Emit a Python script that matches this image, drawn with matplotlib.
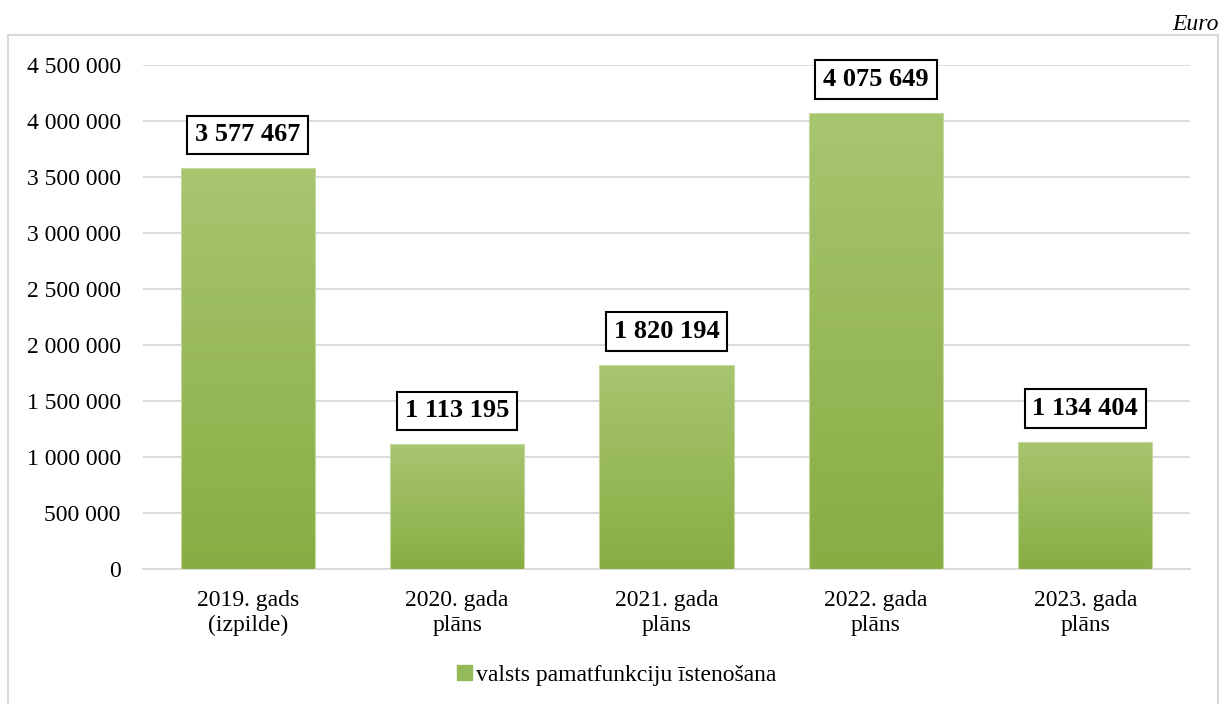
import numpy as np
import matplotlib.pyplot as plt
from matplotlib.patches import Rectangle
from matplotlib.ticker import FuncFormatter
from matplotlib.colors import LinearSegmentedColormap

plt.rcParams['font.family'] = ['Liberation Serif', 'DejaVu Serif']

categories = ['2019. gads\n(izpilde)', '2020. gada\nplāns', '2021. gada\nplāns',
              '2022. gada\nplāns', '2023. gada\nplāns']
values = [3577467, 1113195, 1820194, 4075649, 1134404]
series_name = 'valsts pamatfunkciju īstenošana'
yticks = np.arange(0, 4500001, 500000)


def fmt(v, pos=None):
    return '{:,.0f}'.format(v).replace(',', ' ')


fig = plt.figure(figsize=(12.22, 7.04), dpi=100)

# ramis ap diagrammu
fig.patches.append(Rectangle((8 / 1222, -0.01), 1210 / 1222, 1 - 35 / 704 + 0.01,
                             transform=fig.transFigure, fill=False,
                             edgecolor='#d9d9d9', linewidth=1.5))
fig.text(1219 / 1222, 1 - 25 / 704, 'Euro', ha='right', va='center',
         fontsize=17, style='italic')

ax = fig.add_axes([143 / 1222, 1 - 569 / 704, 1047 / 1222, 504 / 704])
x = np.arange(len(values))
width = 0.64
bars = ax.bar(x, values, width=width, color='none', edgecolor='none', zorder=3)

# gradients stabiņiem
grad = np.linspace(0, 1, 256).reshape(-1, 1)
cmap = LinearSegmentedColormap.from_list('g', ['#88ad43', '#a8c570'])
for b in bars:
    x0, y0 = b.get_x(), b.get_y()
    w, h = b.get_width(), b.get_height()
    im = ax.imshow(grad, extent=[x0, x0 + w, y0, y0 + h], origin='lower',
                   cmap=cmap, aspect='auto', zorder=3)
    im.set_clip_path(b)
    ax.add_patch(Rectangle((x0, y0), w, h, fill=False, edgecolor='#c3d9a0',
                           linewidth=0.8, zorder=4))

for xi, v in zip(x, values):
    ax.annotate(fmt(v), (xi, v), xytext=(0, 24), textcoords='offset points',
                ha='center', va='center', fontsize=19, fontweight='bold',
                bbox=dict(boxstyle='square,pad=0.3', fc='white', ec='black', lw=1.5),
                zorder=5)

ax.set_xlim(-0.5, len(values) - 0.5)
ax.set_ylim(0, 4500000)
ax.set_yticks(yticks)
ax.yaxis.set_major_formatter(FuncFormatter(fmt))
ax.set_xticks(x)
ax.set_xticklabels(categories, fontsize=17, linespacing=1.25)
ax.tick_params(axis='y', labelsize=17, length=0, pad=16)
ax.tick_params(axis='x', length=0, pad=15)
ax.grid(axis='y', color='#d9d9d9', linewidth=1.3, zorder=0)
ax.set_axisbelow(True)
for s in ['top', 'right', 'left']:
    ax.spines[s].set_visible(False)
ax.spines['bottom'].set_color('#d9d9d9')
ax.spines['bottom'].set_linewidth(1.3)

handle = Rectangle((0, 0), 1, 1, color='#96b957')
fig.legend([handle], [series_name], loc='center', bbox_to_anchor=(617 / 1222, 1 - 675 / 704),
           frameon=False, fontsize=17, handlelength=0.6, handleheight=0.6,
           handletextpad=0.2)

fig.savefig('out.png', dpi=100)
